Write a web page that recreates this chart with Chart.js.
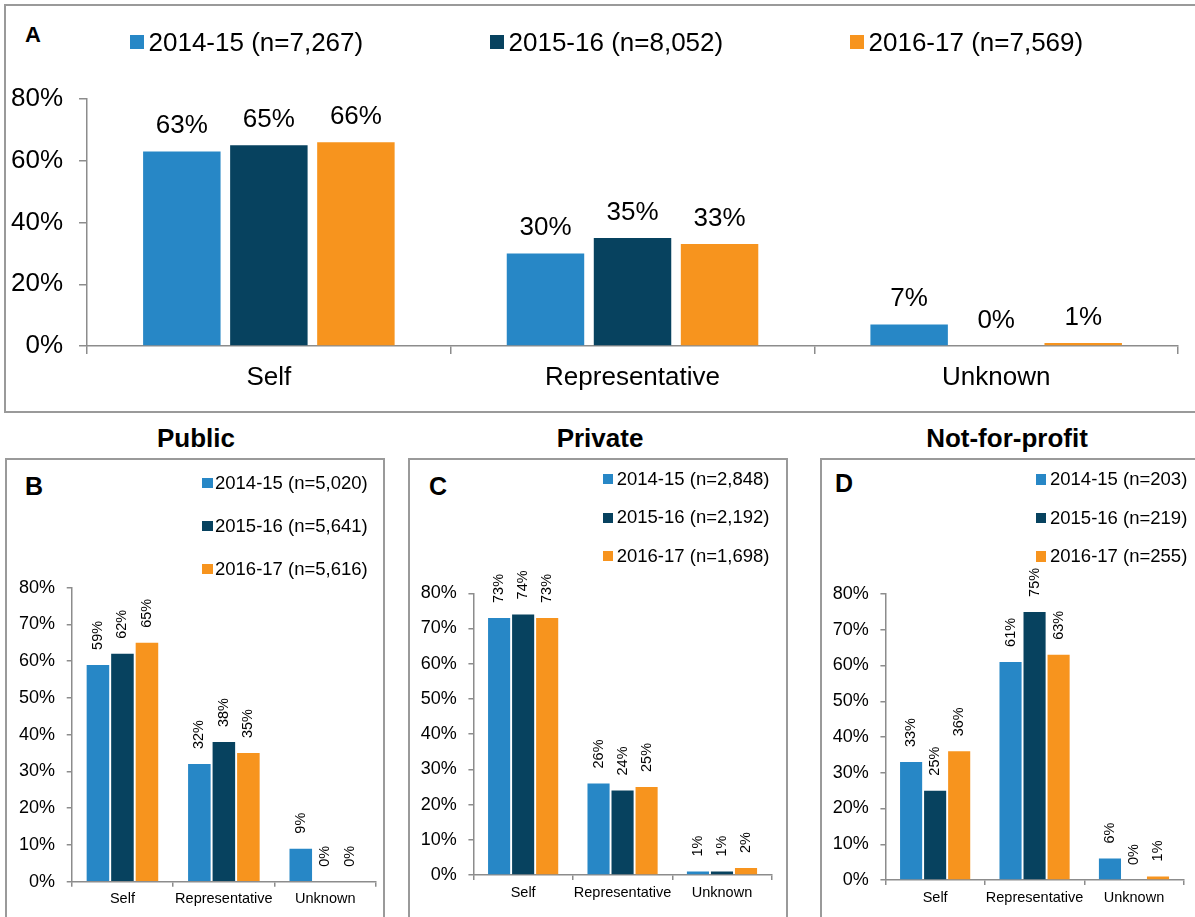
<!DOCTYPE html>
<html>
<head>
<meta charset="utf-8">
<title>Who lodged the complaint</title>
<script src="https://cdn.jsdelivr.net/npm/chart.js@4.4.0/dist/chart.umd.min.js"></script>
<style>
body { margin: 0; width: 1195px; height: 917px; overflow: hidden; background: #fff; position: relative;
       font-family: 'Liberation Sans', Arial, sans-serif; color: #000; }
.frame { position: absolute; border: 2px solid #9a9a9a; box-sizing: border-box; }
.box { position: absolute; }
.tag { position: absolute; font-weight: bold; line-height: 1; }
.title { position: absolute; font-weight: bold; font-size: 26px; line-height: 1; text-align: center; width: 300px; }
.legend { position: absolute; }
.legend .item { display: flex; align-items: center; white-space: nowrap; line-height: 1; }
.legend .sw { display: inline-block; flex: none; }
</style>
</head>
<body>

<!-- frames -->
<div class="frame" style="left:4px; top:4px; width:1210px; height:409px;"></div>
<div class="frame" style="left:5px; top:458px; width:380px; height:480px;"></div>
<div class="frame" style="left:408px; top:458px; width:380px; height:480px;"></div>
<div class="frame" style="left:820px; top:458px; width:400px; height:480px;"></div>

<!-- panel letters and titles -->
<div class="tag" style="left:25px; top:24px; font-size:22px;">A</div>
<div class="tag" style="left:25px; top:474px; font-size:25px;">B</div>
<div class="tag" style="left:429px; top:474px; font-size:25px;">C</div>
<div class="tag" style="left:835px; top:471px; font-size:25px;">D</div>
<div class="title" style="left:46px; top:425px;">Public</div>
<div class="title" style="left:450px; top:425px;">Private</div>
<div class="title" style="left:857px; top:425px;">Not-for-profit</div>

<!-- charts (canvases are transparent, frames are drawn by the divs above) -->
<div class="box" style="left:-5px; top:6px; width:1207px; height:405px;"><canvas id="chartA"></canvas></div>
<div class="box" style="left:7px; top:460px; width:376px; height:457px;"><canvas id="chartB"></canvas></div>
<div class="box" style="left:409px; top:460px; width:377px; height:457px;"><canvas id="chartC"></canvas></div>
<div class="box" style="left:820.6px; top:460px; width:374.4px; height:457px;"><canvas id="chartD"></canvas></div>

<!-- legends (filled from the datasets) -->
<div class="legend" id="legendA"></div>
<div class="legend" id="legendB"></div>
<div class="legend" id="legendC"></div>
<div class="legend" id="legendD"></div>

<script>
// Categories and years shared by all four charts.
var categories = ['Self', 'Representative', 'Unknown'];
var years = ['2014-15', '2015-16', '2016-17'];

// A - all providers
var allCounts = ['7,267', '8,052', '7,569'];
var all1415 = [63, 30, 7];
var all1516 = [65, 35, 0];
var all1617 = [66, 33, 1];

// B - public
var publicCounts = ['5,020', '5,641', '5,616'];
var public1415 = [59, 32, 9];
var public1516 = [62, 38, 0];
var public1617 = [65, 35, 0];

// C - private
var privateCounts = ['2,848', '2,192', '1,698'];
var private1415 = [73, 26, 1];
var private1516 = [74, 24, 1];
var private1617 = [73, 25, 2];

// D - not-for-profit
var nfpCounts = ['203', '219', '255'];
var nfp1415 = [33, 61, 6];
var nfp1516 = [25, 75, 0];
var nfp1617 = [36, 63, 1];

// Y axis tick values (percent).
var mainTicks = [0, 20, 40, 60, 80];
var panelTicks = [0, 10, 20, 30, 40, 50, 60, 70, 80];

// Colors for each year.
var yearColors = ['#2787c6', '#07425f', '#f7941e'];
var axisColor = '#8c8c8c';
var fontFamily = "'Liberation Sans', Arial, sans-serif";

Chart.defaults.font.family = fontFamily;
Chart.defaults.color = '#000';

// Draws the percent above each bar (flat for A, rotated for the panels).
var valueLabels = {
    id: 'valueLabels',
    afterDatasetsDraw: function (chart, args, opts) {
        var ctx = chart.ctx;
        ctx.save();
        ctx.fillStyle = '#000';
        ctx.font = opts.size + 'px ' + fontFamily;
        chart.data.datasets.forEach(function (ds, i) {
            var meta = chart.getDatasetMeta(i);
            meta.data.forEach(function (bar, j) {
                var text = ds.data[j] + '%';
                if (opts.rotate) {
                    ctx.save();
                    ctx.translate(bar.x, bar.y - opts.offset);
                    ctx.rotate(-Math.PI / 2);
                    ctx.textAlign = 'left';
                    ctx.textBaseline = 'middle';
                    ctx.fillText(text, 0, 0);
                    ctx.restore();
                } else {
                    ctx.textAlign = 'center';
                    ctx.textBaseline = 'alphabetic';
                    ctx.fillText(text, bar.x, bar.y - opts.offset);
                }
            });
        });
        ctx.restore();
    }
};

function makeDatasets(counts, series, cfg) {
    return series.map(function (values, i) {
        return {
            label: years[i] + ' (n=' + counts[i] + ')',
            data: values,
            backgroundColor: yearColors[i],
            borderWidth: 0,
            categoryPercentage: cfg.catPct,
            barPercentage: cfg.barPct
        };
    });
}

function makeChart(canvasId, counts, series, tickValues, cfg) {
    var ctx = document.getElementById(canvasId).getContext('2d');
    return new Chart(ctx, {
        type: 'bar',
        data: {
            labels: categories,
            datasets: makeDatasets(counts, series, cfg)
        },
        options: {
            responsive: true,
            maintainAspectRatio: false,
            animation: false,
            events: [],
            layout: { padding: cfg.padding },
            plugins: {
                legend: { display: false },
                tooltip: { enabled: false },
                valueLabels: { size: cfg.labelSize, offset: cfg.labelOffset, rotate: cfg.rotate }
            },
            scales: {
                x: {
                    ticks: { padding: cfg.catPad, font: { size: cfg.catSize }, maxRotation: 0, autoSkip: false },
                    grid: { drawOnChartArea: false, tickLength: cfg.tickLength, color: axisColor, lineWidth: 1.5, offset: true },
                    border: { color: axisColor, width: 1.5 }
                },
                y: {
                    min: tickValues[0],
                    max: tickValues[tickValues.length - 1],
                    afterBuildTicks: function (axis) {
                        axis.ticks = tickValues.map(function (v) { return { value: v }; });
                    },
                    ticks: {
                        padding: cfg.tickPad,
                        font: { size: cfg.tickSize },
                        callback: function (v) { return v + '%'; }
                    },
                    grid: { drawOnChartArea: false, tickLength: cfg.tickLength, color: axisColor, lineWidth: 1.5 },
                    border: { color: axisColor, width: 1.5 }
                }
            }
        },
        plugins: [valueLabels]
    });
}

// HTML legend built from the chart's own datasets.
function buildLegend(id, chart, lg) {
    var el = document.getElementById(id);
    el.style.left = lg.left + 'px';
    el.style.top = lg.top + 'px';
    if (lg.itemWidth) {
        el.style.display = 'flex';
    }
    chart.data.datasets.forEach(function (ds) {
        var item = document.createElement('div');
        item.className = 'item';
        item.style.height = lg.rowHeight + 'px';
        item.style.fontSize = lg.font + 'px';
        if (lg.itemWidth) {
            item.style.width = lg.itemWidth + 'px';
        }
        var sw = document.createElement('span');
        sw.className = 'sw';
        sw.style.width = lg.box + 'px';
        sw.style.height = lg.box + 'px';
        sw.style.background = ds.backgroundColor;
        sw.style.marginRight = lg.gap + 'px';
        var txt = document.createElement('span');
        txt.textContent = ds.label;
        item.appendChild(sw);
        item.appendChild(txt);
        el.appendChild(item);
    });
}

var mainCfg = {
    padding: { left: 0, right: 24, top: 93, bottom: 9.8 },
    catPct: 0.718, barPct: 0.89,
    tickSize: 26, catSize: 26, tickLength: 8, tickPad: 16, catPad: 8,
    labelSize: 26, labelOffset: 18, rotate: false
};

function panelCfg(padding) {
    return {
        padding: padding,
        catPct: 0.725, barPct: 0.92,
        tickSize: 18, catSize: 14.5, tickLength: 5, tickPad: 11.7, catPad: 4,
        labelSize: 14.5, labelOffset: 15, rotate: true
    };
}

var chartA = makeChart('chartA', allCounts, [all1415, all1516, all1617], mainTicks, mainCfg);
var chartB = makeChart('chartB', publicCounts, [public1415, public1516, public1617], panelTicks,
    panelCfg({ left: 0.3, right: 7, top: 127.7, bottom: 4.9 }));
var chartC = makeChart('chartC', privateCounts, [private1415, private1516, private1617], panelTicks,
    panelCfg({ left: 0, right: 14.3, top: 133.3, bottom: 11.6 }));
var chartD = makeChart('chartD', nfpCounts, [nfp1415, nfp1516, nfp1617], panelTicks,
    panelCfg({ left: 0, right: 11.7, top: 134, bottom: 6.6 }));

buildLegend('legendA', chartA, { left: 130, top: 27, rowHeight: 30, itemWidth: 360, font: 26, box: 14, gap: 4.5 });
buildLegend('legendB', chartB, { left: 202, top: 461.5, rowHeight: 43, font: 18.5, box: 10.5, gap: 2.5 });
buildLegend('legendC', chartC, { left: 603.3, top: 460.1, rowHeight: 38.4, font: 18.5, box: 10, gap: 3.4 });
buildLegend('legendD', chartD, { left: 1035.7, top: 460, rowHeight: 38.7, font: 18.5, box: 10.5, gap: 3.8 });
</script>
</body>
</html>
